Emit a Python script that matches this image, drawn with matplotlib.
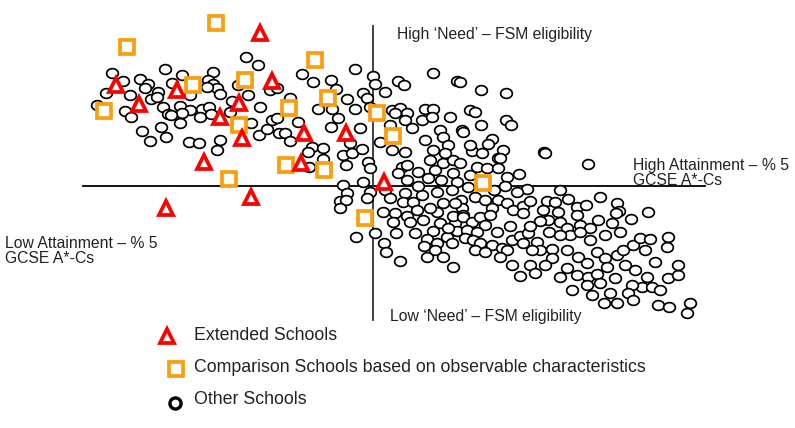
import matplotlib
matplotlib.use("Agg")
import numpy as np
import matplotlib.pyplot as plt
from matplotlib.path import Path

plt.rcParams["font.family"] = ["Liberation Sans", "DejaVu Sans"]

# Attainment (x, right = high) and need (y, up = high), centred on the quadrant crossing
CX, CY = 373, 186

ext_px = [(260, 33), (116, 85), (139, 104), (177, 90), (239, 103), (272, 81), (220, 117),
          (242, 138), (304, 133), (346, 133), (204, 162), (301, 163), (384, 182), (166, 208),
          (251, 197)]

cmp_px = [(216, 23), (127, 47), (193, 85), (245, 80), (315, 60), (104, 111), (328, 98),
          (289, 108), (239, 125), (377, 113), (393, 136), (286, 165), (229, 179), (324, 170),
          (483, 183), (365, 218)]

oth_px = [
    (246, 57), (258, 65), (112, 73), (123, 81), (165, 69), (140, 79), (148, 84), (145, 88),
    (182, 75), (213, 72), (208, 80), (213, 84), (217, 88), (220, 94), (207, 87), (158, 92),
    (151, 99), (157, 97), (163, 107), (168, 114), (180, 106), (190, 110), (202, 109),
    (209, 107), (200, 117), (97, 105), (125, 111), (131, 117), (270, 90), (248, 95),
    (232, 101), (182, 113),
    (142, 131), (150, 141), (161, 127), (166, 137), (171, 115), (180, 123), (211, 114),
    (189, 142), (199, 143), (220, 140), (217, 150), (251, 123), (259, 135), (267, 129),
    (272, 120), (277, 118), (230, 112),
    (302, 74), (313, 82), (331, 80), (336, 89), (355, 69), (373, 76), (375, 84), (363, 93),
    (367, 98), (385, 92), (398, 81), (404, 85), (433, 73), (457, 81), (347, 99), (318, 109),
    (332, 109), (355, 109), (370, 107), (277, 88), (392, 110), (400, 108), (407, 113),
    (425, 109), (433, 109), (450, 117), (470, 110),
    (279, 133), (285, 133), (290, 141), (331, 127), (312, 147), (308, 152), (323, 148),
    (343, 155), (350, 143), (352, 153), (362, 149), (346, 165), (368, 162), (370, 168),
    (309, 167), (323, 159), (380, 142), (390, 125), (395, 113), (405, 120), (412, 128),
    (422, 120), (432, 117), (462, 130), (440, 130), (443, 137), (425, 140), (448, 145),
    (405, 152), (433, 150), (402, 167), (407, 165), (398, 173), (407, 180), (418, 172),
    (435, 170), (443, 163), (453, 160), (460, 163), (441, 180), (453, 173), (457, 182),
    (470, 175), (343, 185), (363, 182), (370, 192), (347, 193), (340, 201), (346, 200),
    (340, 208), (367, 198), (385, 190), (390, 198), (405, 193), (403, 202), (413, 202),
    (422, 195), (417, 210), (437, 192), (443, 203), (452, 190), (461, 200), (462, 208),
    (383, 212), (395, 213), (407, 216),
    (356, 237), (375, 233), (384, 243), (386, 252), (393, 222), (396, 233), (400, 261),
    (410, 222), (415, 233), (423, 220), (433, 231), (440, 223), (427, 239), (437, 243),
    (424, 246), (427, 257), (435, 250), (443, 257), (447, 237), (452, 243), (455, 223),
    (453, 216), (463, 215), (457, 231), (467, 235), (453, 267), (437, 212),
    (460, 82), (481, 90), (506, 93), (475, 112), (481, 125), (463, 132), (506, 120),
    (511, 125), (492, 139), (472, 151), (482, 153), (503, 150), (544, 152), (498, 158),
    (500, 158), (545, 153), (588, 164), (477, 167), (487, 168), (498, 168), (507, 177),
    (519, 174), (527, 189), (517, 192), (468, 187), (475, 197), (485, 200), (498, 200),
    (507, 203), (513, 210), (523, 206), (530, 201), (492, 208), (523, 213), (547, 201),
    (555, 202), (568, 199), (577, 207), (586, 205), (600, 197), (617, 203), (619, 211),
    (616, 213), (648, 212), (631, 219), (543, 210), (548, 220), (540, 221), (560, 222),
    (577, 215), (580, 225), (590, 228), (598, 220), (612, 223), (567, 228), (570, 235),
    (580, 232), (549, 232), (560, 235), (463, 217), (472, 222), (480, 217), (490, 215),
    (485, 225), (467, 230), (477, 232), (465, 238), (473, 240), (480, 243), (492, 245),
    (502, 248), (512, 240), (520, 236), (528, 233), (523, 243), (537, 242), (540, 250),
    (552, 249), (532, 250), (507, 250), (475, 250), (485, 252), (500, 257), (512, 265),
    (520, 276), (530, 265), (535, 273), (552, 258), (567, 268), (567, 250), (578, 257),
    (587, 263), (597, 252), (605, 258), (607, 267), (617, 255), (623, 250), (633, 245),
    (640, 238), (650, 239), (668, 237), (667, 247), (560, 277), (577, 275), (588, 277),
    (597, 274), (587, 285), (600, 283), (615, 278), (635, 270), (647, 277), (642, 287),
    (652, 287), (632, 285), (628, 293), (668, 278), (678, 275), (678, 265), (610, 293),
    (617, 303), (633, 300), (658, 305), (669, 307), (690, 303), (687, 313),
    (494, 190), (505, 186), (558, 212), (530, 226), (590, 240), (605, 235), (620, 232),
    (545, 265), (592, 295), (604, 303), (625, 265), (660, 290), (497, 232), (510, 226),
    (455, 203), (430, 208), (448, 228), (418, 186), (428, 178), (470, 145), (488, 144),
    (430, 160), (445, 153), (392, 150), (360, 128), (338, 118), (298, 122), (290, 98),
    (260, 107), (238, 85), (190, 95), (172, 83), (130, 95), (106, 93), (560, 190),
    (645, 250), (655, 262), (572, 290),
]

ext_att = [p[0] - CX for p in ext_px]
ext_need = [CY - p[1] for p in ext_px]
cmp_att = [p[0] - CX for p in cmp_px]
cmp_need = [CY - p[1] for p in cmp_px]
oth_att = [p[0] - CX for p in oth_px]
oth_need = [CY - p[1] for p in oth_px]

RED = "#FF0000"
ORANGE = "#FA9E0F"

# slightly wide ellipse marker for the "other" schools
t = np.linspace(0, 2 * np.pi, 60)
ellipse = Path(np.column_stack([1.2 * np.cos(t), np.sin(t)]), closed=True)

fig = plt.figure(figsize=(7.95, 4.28), dpi=100)
ax = fig.add_axes([0, 0, 1, 1])
ax.set_xlim(-CX, 795 - CX)
ax.set_ylim(CY - 428, CY)
ax.axis("off")

# quadrant axes
ax.plot([83 - CX, 705 - CX], [0, 0], color="black", lw=1.3, zorder=1)
ax.plot([0, 0], [CY - 26, CY - 320], color="#333333", lw=1.3, zorder=1)

ax.plot(oth_att, oth_need, ls="none", marker=ellipse, ms=8.4, mfc="white",
        mec="black", mew=1.25, zorder=2)
ax.plot(cmp_att, cmp_need, ls="none", marker="s", ms=9.4, mfc="white",
        mec=ORANGE, mew=2.7, zorder=3)
ax.plot(ext_att, ext_need, ls="none", marker="^", ms=10.5, mfc="white",
        mec=RED, mew=2.7, zorder=4)

fs = 11.3
ax.text(397 - CX, CY - 34, "High \u2018Need\u2019 \u2013 FSM eligibility", fontsize=fs,
        va="center", ha="left", color="#222222")
ax.text(390 - CX, CY - 316, "Low \u2018Need\u2019 \u2013 FSM eligibility", fontsize=fs,
        va="center", ha="left", color="#222222")
ax.text(633 - CX, CY - 173, "High Attainment \u2013 % 5\nGCSE A*-Cs", fontsize=fs,
        va="center", ha="left", linespacing=1.0, color="#222222")
ax.text(5 - CX, CY - 251, "Low Attainment \u2013 % 5\nGCSE A*-Cs", fontsize=fs,
        va="center", ha="left", linespacing=1.0, color="#222222")

# legend drawn by hand
lx = 176 - CX
ax.plot([lx - 9], [CY - 336], ls="none", marker="^", ms=10.5, mfc="white", mec=RED, mew=2.7)
ax.plot([lx], [CY - 369], ls="none", marker="s", ms=9.4, mfc="white", mec=ORANGE, mew=2.7)
ax.plot([lx - 1], [CY - 403], ls="none", marker="o", ms=8, mfc="white", mec="black", mew=2.4)
lfs = 12.8
ax.text(194 - CX, CY - 335, "Extended Schools", fontsize=lfs, va="center", color="#222222")
ax.text(194 - CX, CY - 368, "Comparison Schools based on observable characteristics",
        fontsize=lfs, va="center", color="#222222")
ax.text(194 - CX, CY - 400, "Other Schools", fontsize=lfs, va="center", color="#222222")

fig.savefig("out.png", dpi=100)
